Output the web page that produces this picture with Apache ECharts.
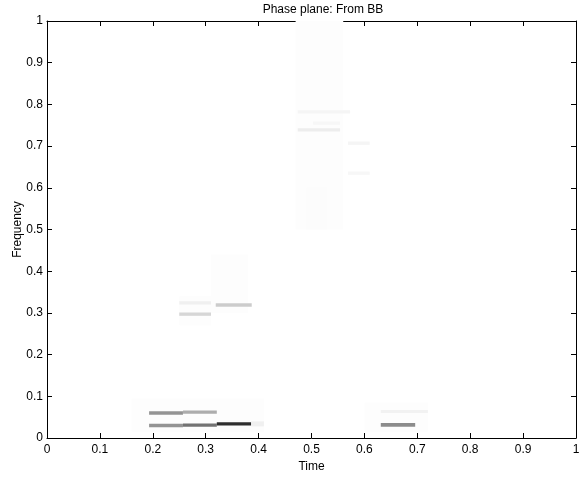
<!DOCTYPE html>
<html>
<head>
<meta charset="utf-8">
<script src="https://cdn.jsdelivr.net/npm/echarts@6/dist/echarts.min.js"></script>
<style>
  html, body { margin: 0; padding: 0; background: #fff; }
  #chart { width: 584px; height: 478px; }
</style>
</head>
<body>
<div id="chart"></div>
<script>
// time-frequency tiles: start time, end time, low freq, high freq, darkness (0 white .. 1 black)
const tileStart = [0.16, 0.47, 0.60, 0.31, 0.25, 0.193, 0.257, 0.193, 0.257, 0.321, 0.386, 0.631, 0.631, 0.25, 0.25, 0.319, 0.474, 0.503, 0.474, 0.569, 0.569, 0.49];
const tileEnd   = [0.41, 0.56, 0.72, 0.38, 0.31, 0.257, 0.321, 0.257, 0.321, 0.386, 0.41, 0.696, 0.72, 0.31, 0.31, 0.387, 0.573, 0.554, 0.554, 0.61, 0.61, 0.53];
const tileLow   = [0.015, 0.50, 0.015, 0.30, 0.27, 0.056, 0.058, 0.026, 0.027, 0.030, 0.028, 0.027, 0.060, 0.293, 0.320, 0.315, 0.778, 0.751, 0.735, 0.703, 0.631, 0.50];
const tileHigh  = [0.095, 1.00, 0.085, 0.44, 0.34, 0.064, 0.066, 0.034, 0.035, 0.038, 0.040, 0.036, 0.067, 0.301, 0.328, 0.323, 0.786, 0.759, 0.743, 0.711, 0.639, 0.60];
const tileDark  = [0.008, 0.006, 0.008, 0.008, 0.008, 0.42, 0.32, 0.42, 0.55, 0.82, 0.06, 0.45, 0.05, 0.16, 0.06, 0.20, 0.04, 0.03, 0.07, 0.04, 0.03, 0.01];

const timeTicks = [0, 0.1, 0.2, 0.3, 0.4, 0.5, 0.6, 0.7, 0.8, 0.9, 1];
const freqTicks = [0, 0.1, 0.2, 0.3, 0.4, 0.5, 0.6, 0.7, 0.8, 0.9, 1];

const tiles = tileStart.map((s, i) => [s, tileEnd[i], tileLow[i], tileHigh[i], tileDark[i]]);

const font = 'Liberation Sans, Arial, sans-serif';
const axisLine = { show: true, onZero: false, lineStyle: { color: '#000', width: 1 } };
const tick = { show: true, inside: true, length: 5, lineStyle: { color: '#000' } };

const myChart = echarts.init(document.getElementById('chart'), null, { renderer: 'canvas' });
myChart.setOption({
  animation: false,
  backgroundColor: '#fff',
  title: {
    text: 'Phase plane: From BB',
    left: 318, top: -1, textAlign: 'center',
    textStyle: { fontFamily: font, fontSize: 12, fontWeight: 'normal', color: '#000' }
  },
  grid: { left: 47, right: 8, top: 21, bottom: 40, outerBoundsMode: 'none', containLabel: false },
  xAxis: [{
    type: 'value', min: 0, max: 1, interval: 0.1, position: 'bottom',
    name: 'Time', nameLocation: 'middle', nameGap: 23, nameMoveOverlap: false,
    nameTextStyle: { fontFamily: font, fontSize: 12, color: '#000' },
    axisLine, axisTick: tick, splitLine: { show: false },
    axisLabel: { fontFamily: font, fontSize: 12, color: '#000', margin: 6,
      formatter: v => String(timeTicks[Math.round(v * 10)]) }
  }, {
    type: 'value', min: 0, max: 1, interval: 0.1, position: 'top',
    axisLine, axisTick: tick, splitLine: { show: false }, axisLabel: { show: false }
  }],
  yAxis: [{
    type: 'value', min: 0, max: 1, interval: 0.1, position: 'left',
    name: 'Frequency', nameLocation: 'middle', nameGap: 23, nameMoveOverlap: false,
    nameTextStyle: { fontFamily: font, fontSize: 12, color: '#000' },
    axisLine, axisTick: tick, splitLine: { show: false },
    axisLabel: { fontFamily: font, fontSize: 12, color: '#000', margin: 4,
      formatter: v => String(freqTicks[Math.round(v * 10)]) }
  }, {
    type: 'value', min: 0, max: 1, interval: 0.1, position: 'right',
    axisLine, axisTick: tick, splitLine: { show: false }, axisLabel: { show: false }
  }],
  series: [{
    type: 'custom',
    xAxisIndex: 0, yAxisIndex: 0,
    clip: true,
    data: tiles,
    renderItem(params, api) {
      const p0 = api.coord([api.value(0), api.value(3)]);
      const p1 = api.coord([api.value(1), api.value(2)]);
      const g = Math.round(255 * (1 - api.value(4)));
      return {
        type: 'rect',
        shape: { x: p0[0], y: p0[1], width: p1[0] - p0[0], height: Math.max(p1[1] - p0[1], 1) },
        style: { fill: `rgb(${g},${g},${g})` }
      };
    }
  }]
});
</script>
</body>
</html>
